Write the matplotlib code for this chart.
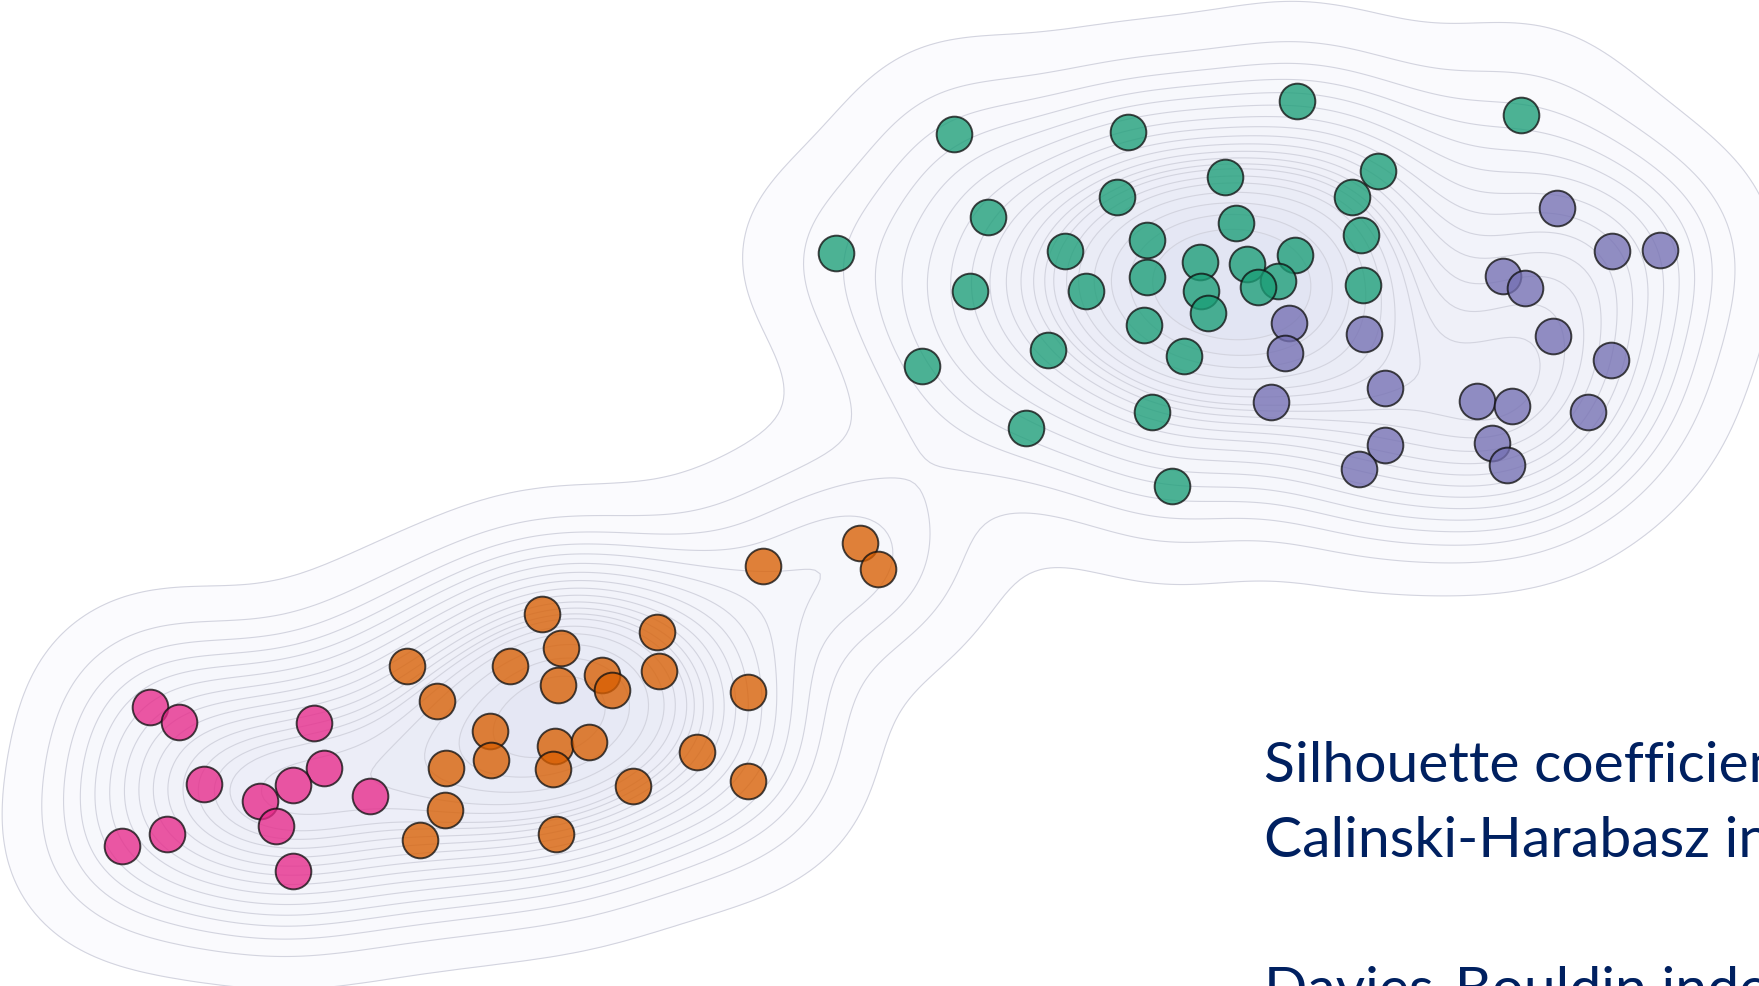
import matplotlib
matplotlib.use("Agg")
import matplotlib.pyplot as plt
import numpy as np
from matplotlib.colors import LinearSegmentedColormap

# cluster members, 2-D embedding scores (x right, y down)
pink_x = [150, 179, 314, 204, 324, 293, 260, 370, 276, 167, 122, 293]
pink_y = [708, 723, 724, 785, 769, 786, 802, 797, 827, 835, 847, 872]

orange_x = [763, 860, 878, 542, 657, 561, 407, 510, 558, 602, 612, 659, 748,
            437, 490, 491, 555, 589, 553, 446, 697, 748, 633, 445, 420, 556]
orange_y = [567, 544, 570, 615, 633, 649, 667, 667, 686, 676, 691, 672, 693,
            702, 732, 761, 747, 743, 770, 769, 753, 782, 787, 811, 841, 835]

green_x = [954, 1128, 1297, 1521, 988, 1117, 1225, 1378, 1352, 1236, 1361,
           836, 1065, 1147, 1200, 1247, 1295, 1147, 1278, 1258, 1363, 970,
           1086, 1201, 1208, 1144, 1048, 1184, 922, 1026, 1152, 1172]
green_y = [135, 133, 102, 116, 218, 198, 178, 172, 198, 224, 236, 254, 252,
           241, 263, 265, 256, 278, 282, 288, 286, 292, 292, 292, 314, 326,
           351, 357, 367, 429, 413, 487]

purple_x = [1289, 1285, 1271, 1364, 1385, 1385, 1359, 1557, 1612, 1660,
            1503, 1525, 1553, 1611, 1477, 1512, 1588, 1492, 1507]
purple_y = [324, 354, 403, 335, 389, 446, 470, 209, 252, 251, 277, 289,
            337, 361, 402, 407, 413, 444, 466]

clusters = [
    (pink_x, pink_y, "#e7298a"),
    (orange_x, orange_y, "#d95f02"),
    (green_x, green_y, "#1b9e77"),
    (purple_x, purple_y, "#7570b3"),
]

metric_lines = ["Silhouette coefficient", "Calinski-Harabasz index", "",
                "Davies-Bouldin index"]

W, H = 1759, 987
fig = plt.figure(figsize=(W / 100, H / 100), dpi=100)
ax = fig.add_axes([0, 0, 1, 1])
ax.set_xlim(0, W)
ax.set_ylim(H, 0)
ax.axis("off")

# gaussian kde of all points
px = np.array(pink_x + orange_x + green_x + purple_x, dtype=float)
py = np.array(pink_y + orange_y + green_y + purple_y, dtype=float)
hx, hy = 80.0, 74.0
gx = np.arange(-400, W + 400, 5.0)
gy = np.arange(-400, H + 400, 5.0)
GX, GY = np.meshgrid(gx, gy)
Z = np.zeros_like(GX)
for x0, y0 in zip(px, py):
    Z += np.exp(-0.5 * (((GX - x0) / hx) ** 2 + ((GY - y0) / hy) ** 2))

# iso-proportion levels
isoprop = np.linspace(0.03, 1, 21)
vals = np.sort(Z.ravel())[::-1]
cum = np.cumsum(vals) / vals.sum()
idx = np.searchsorted(cum, 1 - isoprop)
levels = np.unique(np.take(vals, idx, mode="clip"))

cmap = LinearSegmentedColormap.from_list("lav", ["#fcfcfe", "#e0e3f2"])
ax.contourf(GX, GY, Z, levels=levels, cmap=cmap, zorder=0)
ax.contour(GX, GY, Z, levels=levels[:-1], colors="#d3d4df",
           linewidths=0.8, zorder=1)

for xs, ys, c in clusters:
    ax.scatter(xs, ys, s=660, c=c, alpha=0.78, edgecolors="#111111",
               linewidths=1.4, zorder=3)

baselines = [782, 857, 932, 1007]
for txt, yb in zip(metric_lines, baselines):
    if txt:
        ax.text(1264, yb, txt, fontsize=41, family="Lato", color="#002060",
                ha="left", va="baseline", zorder=4)

fig.savefig("out.png", dpi=100)
